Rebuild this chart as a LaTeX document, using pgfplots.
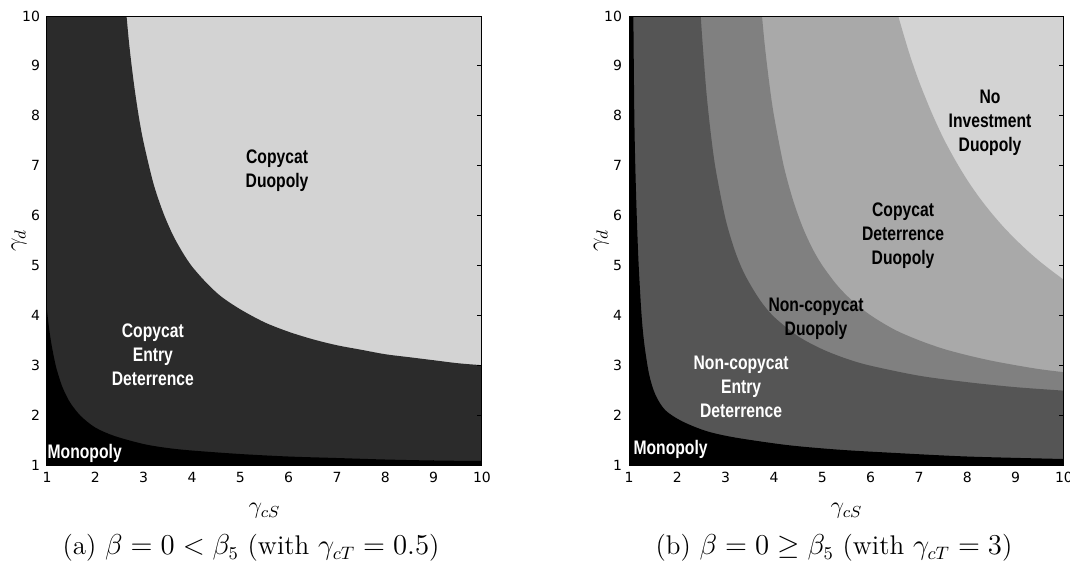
\documentclass[border=0pt]{standalone}
\usepackage{pgfplots}
\pgfplotsset{compat=1.18}
\usepackage{fontspec}
\newfontfamily\lblfont[FakeStretch=0.8]{Liberation Sans}
\newfontfamily\tickfont{DejaVu Sans}
\definecolor{cdarkA}{HTML}{2B2B2B}
\definecolor{clight}{HTML}{D3D3D3}
\definecolor{cgA}{HTML}{555555}
\definecolor{cgB}{HTML}{808080}
\definecolor{cgC}{HTML}{A9A9A9}
\pgfplotsset{
  regionaxis/.style={
    scale only axis, width=217.5pt, height=224.5pt,
    xmin=1, xmax=10, ymin=1, ymax=10,
    xtick={1,...,10}, ytick={1,...,10},
    axis background/.style={fill=clight},
    axis on top,
    tick align=inside,
    xtick pos=left, xticklabel pos=left,
    ytick pos=right, yticklabel pos=left,
    major tick length=2.5pt,
    every tick/.style={black, line width=0.5pt},
    axis line style={line width=0.5pt},
    /pgf/number format/assume math mode=true,
    tick label style={font=\tickfont\fontsize{7}{8}\selectfont},
    xlabel={$\gamma_{cS}$}, ylabel={$\gamma_d$},
    label style={font=\fontsize{11.5}{13}\selectfont},
    xlabel style={at={(axis description cs:0.5,-0.102)}, anchor=center},
    ylabel style={at={(axis description cs:-0.064,0.5)}, anchor=center},
  },
}
\tikzset{lbl/.style={font=\lblfont\bfseries\fontsize{9.8}{12}\selectfont, align=center}}
\begin{document}
\begin{tikzpicture}
% ---------------- panel (a)
\begin{axis}[regionaxis, at={(0pt,0pt)}, anchor=south west]
% Copycat Entry Deterrence (left of / below the boundary)
\addplot[draw=none, fill=cdarkA, smooth] coordinates {
 (2.6,10.49) (2.7,9.44) (2.8,8.63) (2.9,7.98) (3.0,7.46) (3.2,6.65) (3.4,6.07)
 (3.6,5.62) (3.8,5.27) (4.0,4.98) (4.3,4.65) (4.6,4.38) (5.0,4.12) (5.5,3.86)
 (6.0,3.67) (6.5,3.52) (7.0,3.40) (7.5,3.31) (8.0,3.22) (8.5,3.16) (9.0,3.10)
 (9.5,3.04) (10,3.00)}
 -- (axis cs:10,1) -- (axis cs:1,1) -- (axis cs:1,10.49) -- cycle;
% Monopoly
\addplot[draw=none, fill=black, smooth] coordinates {
 (1.0,4.10) (1.03,3.84) (1.06,3.62) (1.1,3.38) (1.15,3.13) (1.2,2.92) (1.3,2.61)
 (1.4,2.39) (1.5,2.22) (1.7,1.98) (2.0,1.75) (2.4,1.58) (3.0,1.42) (3.5,1.34)
 (4.0,1.29) (5.0,1.22) (6.0,1.17) (7.0,1.14) (8.0,1.11) (9.0,1.09) (10,1.08)}
 -- (axis cs:10,1) -- (axis cs:1,1) -- cycle;
\node[lbl, black] at (axis cs:5.76,6.89) {Copycat\\Duopoly};
\node[lbl, white] at (axis cs:3.19,3.21) {Copycat\\Entry\\Deterrence};
\node[lbl, white] at (axis cs:1.78,1.24) {Monopoly};
\end{axis}
% ---------------- panel (b)
\begin{axis}[regionaxis, at={(291pt,0pt)}, anchor=south west]
% Copycat Deterrence Duopoly
\addplot[draw=none, fill=cgC, smooth] coordinates {
 (6.5,10.26) (6.6,9.90) (6.8,9.25) (7.0,8.69) (7.25,8.09) (7.5,7.56) (7.75,7.11)
 (8.0,6.71) (8.25,6.36) (8.5,6.05) (8.75,5.77) (9.0,5.52) (9.25,5.29) (9.5,5.08)
 (9.75,4.89) (10,4.71)}
 -- (axis cs:10,1) -- (axis cs:1,1) -- (axis cs:1,10.26) -- cycle;
% Non-copycat Duopoly
\addplot[draw=none, fill=cgB, smooth] coordinates {
 (3.7,10.57) (3.8,9.50) (3.9,8.67) (4.0,8.00) (4.2,7.00) (4.4,6.29) (4.6,5.75)
 (4.8,5.33) (5.0,5.00) (5.3,4.61) (5.6,4.31) (6.0,4.00) (6.5,3.71) (7.0,3.50)
 (7.5,3.33) (8.0,3.20) (8.5,3.09) (9.0,3.00) (9.5,2.92) (10,2.86)}
 -- (axis cs:10,1) -- (axis cs:1,1) -- (axis cs:1,10.57) -- cycle;
% Non-copycat Entry Deterrence
\addplot[draw=none, fill=cgA, smooth] coordinates {
 (2.45,10.61) (2.5,9.76) (2.6,8.49) (2.7,7.58) (2.8,6.89) (3.0,5.92) (3.2,5.27)
 (3.4,4.81) (3.7,4.32) (4.0,3.97) (4.5,3.58) (5.0,3.32) (5.5,3.13) (6.0,2.99)
 (7.0,2.79) (8.0,2.66) (9.0,2.56) (10,2.49)}
 -- (axis cs:10,1) -- (axis cs:1,1) -- (axis cs:1,10.61) -- cycle;
% Monopoly
\addplot[draw=none, fill=black, smooth] coordinates {
 (1.09,10) (1.11,8) (1.13,7) (1.16,6) (1.2,5) (1.26,4) (1.32,3.4) (1.42,2.8)
 (1.55,2.4) (1.75,2.1) (2.09,1.88) (2.6,1.68) (3.2,1.55) (4.27,1.40) (5.3,1.31)
 (6.34,1.25) (8,1.17) (10,1.12)}
 -- (axis cs:10,1) -- (axis cs:1,1) -- (axis cs:1,10) -- cycle;
\node[lbl, black] at (axis cs:8.47,7.86) {No\\Investment\\Duopoly};
\node[lbl, black] at (axis cs:6.67,5.59) {Copycat\\Deterrence\\Duopoly};
\node[lbl, black] at (axis cs:4.87,3.93) {Non-copycat\\Duopoly};
\node[lbl, white] at (axis cs:3.32,2.56) {Non-copycat\\Entry\\Deterrence};
\node[lbl, white] at (axis cs:1.86,1.32) {Monopoly};
\end{axis}
% captions
\node[font=\fontsize{13.5}{16}\selectfont] at (102pt,-41.5pt)
  {(a) $\beta = 0 < \beta_5$ (with $\gamma_{cT} = 0.5$)};
\node[font=\fontsize{13.5}{16}\selectfont] at (393.5pt,-41.5pt)
  {(b) $\beta = 0 \geq \beta_5$ (with $\gamma_{cT} = 3$)};
\pgfresetboundingbox
\path (-23.5pt,-51pt) rectangle (511.5pt,232.5pt);
\end{tikzpicture}
\end{document}
